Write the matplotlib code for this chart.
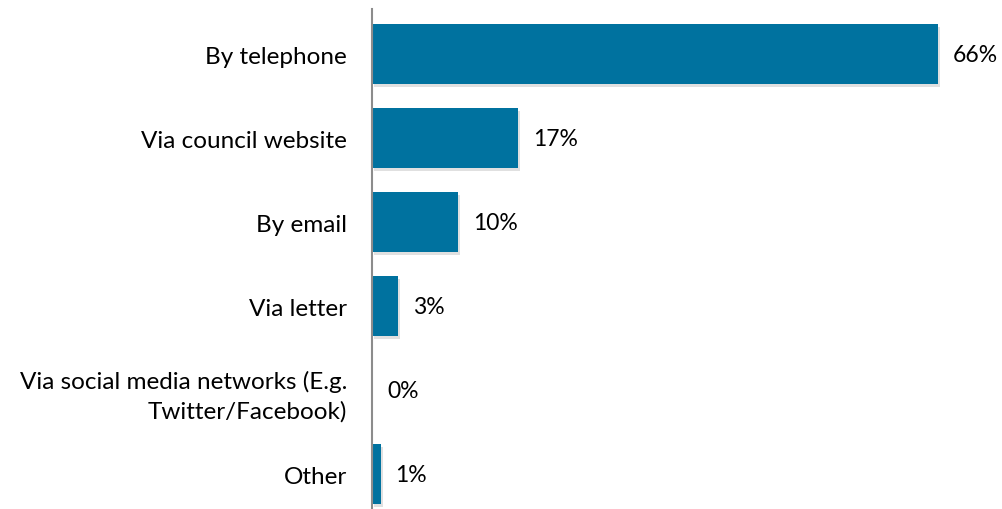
import matplotlib.pyplot as plt
import matplotlib.patheffects as pe
import numpy as np

categories = [
    "By telephone",
    "Via council website",
    "By email",
    "Via letter",
    "Via social media networks (E.g.\nTwitter/Facebook)",
    "Other",
]
values = [66, 17, 10, 3, 0, 1]

BAR_COLOR = "#00729f"

plt.rcParams["font.family"] = ["Lato", "DejaVu Sans"]

fig = plt.figure(figsize=(10.03, 5.10), dpi=100)
ax = fig.add_axes([372 / 1003, 0.0, 631 / 1003, 500 / 510])

y = np.arange(len(categories))
shadow = [pe.SimplePatchShadow(offset=(1.5, -2.5), shadow_rgbFace="#9a9a9a", alpha=0.3), pe.Normal()]
bars = ax.barh(y, values, height=60 / 84, color=BAR_COLOR, zorder=3)
for b in bars:
    b.set_path_effects(shadow)

for yi, v in zip(y, values):
    ax.text(v + 1.75, yi, f"{v}%", va="center", ha="left", fontsize=16.5, color="#000000")

ax.set_xlim(0, 631 / (566 / 66))
ax.set_ylim(5 + 35 / 84, -45 / 84)
ax.set_yticks(y)
ax.set_yticklabels(categories, fontsize=17.5, ha="right", linespacing=1.45)
ax.tick_params(axis="y", length=0, pad=18)
ax.set_xticks([])

for s in ["top", "right", "bottom"]:
    ax.spines[s].set_visible(False)
ax.spines["left"].set_color("#8c8c8c")
ax.spines["left"].set_linewidth(1.5)
ax.spines["left"].set_zorder(4)

fig.savefig("out.png", dpi=100)
